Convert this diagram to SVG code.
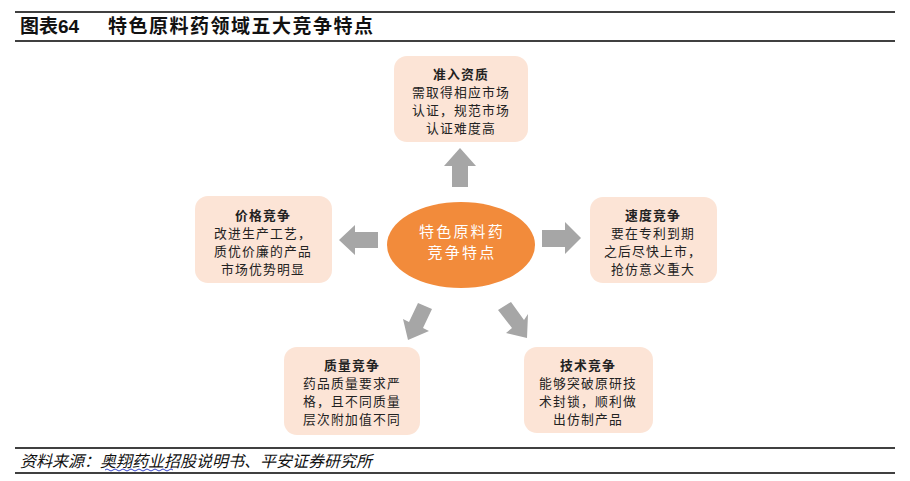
<svg xmlns="http://www.w3.org/2000/svg" width="910" height="481" viewBox="0 0 910 481">
<style>
.rule{stroke:#000;stroke-width:1.3}
.box{fill:#fce4d6;stroke:none}
.t{font-family:"Noto Sans CJK SC",sans-serif;font-size:12.8px;fill:#222;text-anchor:middle;letter-spacing:1.2px}
.tb{font-weight:bold}
.arr{fill:#a6a6a6}
.ct{font-family:"Noto Sans CJK SC",sans-serif;font-size:15px;fill:#fff;text-anchor:middle;letter-spacing:2.2px}
.hd{font-family:"Liberation Sans","Noto Sans CJK SC",sans-serif;font-size:19px;font-weight:bold;fill:#111}
.ft{font-family:"Noto Sans CJK SC",sans-serif;font-size:16px;font-style:italic;fill:#111}
</style>
<rect width="910" height="481" fill="#fff"/>
<g id="header">
<line class="rule" x1="15" y1="12" x2="895" y2="12"/>
<line class="rule" x1="15" y1="41" x2="895" y2="41"/>
<text class="hd" x="20" y="33">图表64</text>
<text class="hd" x="108" y="33" letter-spacing="1.5">特色原料药领域五大竞争特点</text>
</g>
<g id="connectors">
<polygon class="arr" points="460,148 476,166 468,166 468,187 452,187 452,166 444,166"/>
<polygon class="arr" points="339,240 355,225 355,232 378,232 378,248 355,248 355,255"/>
<polygon class="arr" points="581,238 565,222 565,230 542,230 542,247 565,247 565,254"/>
<polygon class="arr" points="408,340 403,319 409,322 418,303 432,309 423,328 429,331"/>
<polygon class="arr" points="527,338 506,333 512,328 498,310 511,302 524,320 528,314"/>
</g>
<g id="center">
<ellipse cx="461" cy="245" rx="74" ry="43" fill="#f28b3b"/>
<text class="ct" x="462" y="237">特色原料药</text>
<text class="ct" x="462" y="258">竞争特点</text>
</g>
<g id="n-top">
<rect class="box" x="394" y="56" width="134" height="86" rx="13"/>
<text class="t tb" x="461" y="79">准入资质</text>
<text class="t" x="461" y="97">需取得相应市场</text>
<text class="t" x="461" y="115">认证，规范市场</text>
<text class="t" x="461" y="133">认证难度高</text>
</g>
<g id="n-left">
<rect class="box" x="195" y="196" width="137" height="87" rx="13"/>
<text class="t tb" x="263" y="220">价格竞争</text>
<text class="t" x="263" y="238">改进生产工艺，</text>
<text class="t" x="263" y="256">质优价廉的产品</text>
<text class="t" x="263" y="274">市场优势明显</text>
</g>
<g id="n-right">
<rect class="box" x="590" y="197" width="127" height="86" rx="13"/>
<text class="t tb" x="653" y="220">速度竞争</text>
<text class="t" x="653" y="238">要在专利到期</text>
<text class="t" x="653" y="256">之后尽快上市，</text>
<text class="t" x="653" y="274">抢仿意义重大</text>
</g>
<g id="n-bl">
<rect class="box" x="284" y="347" width="136" height="88" rx="13"/>
<text class="t tb" x="352" y="370">质量竞争</text>
<text class="t" x="352" y="388">药品质量要求严</text>
<text class="t" x="352" y="406">格，且不同质量</text>
<text class="t" x="352" y="424">层次附加值不同</text>
</g>
<g id="n-br">
<rect class="box" x="524" y="347" width="129" height="86" rx="13"/>
<text class="t tb" x="588" y="370">技术竞争</text>
<text class="t" x="588" y="388">能够突破原研技</text>
<text class="t" x="588" y="406">术封锁，顺利做</text>
<text class="t" x="588" y="424">出仿制产品</text>
</g>
<g id="footer">
<line class="rule" x1="15" y1="448" x2="895" y2="448"/>
<line class="rule" x1="15" y1="473" x2="895" y2="473"/>
<text class="ft" x="20" y="467">资料来源：奥翔药业招股说明书、平安证券研究所</text>
<path d="M105,470 q2,-2 4,0 t4,0 t4,0 t4,0 t4,0 t4,0 t4,0 t4,0 t4,0 t4,0 t4,0 t4,0 t4,0 t4,0 t4,0 t4,0 t4,0" fill="none" stroke="#3344cc" stroke-width="1"/>
</g>
</svg>
